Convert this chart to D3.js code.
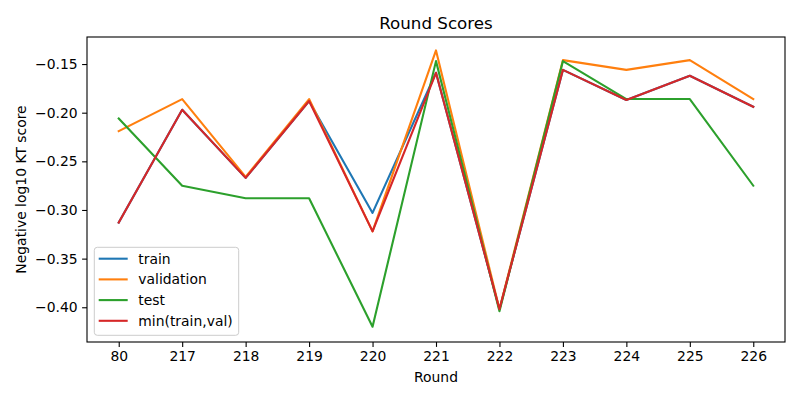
<!DOCTYPE html>
<html lang="en">
<head>
<meta charset="utf-8" />
<title>Round Scores</title>
<style>
  body { margin: 0; background: #fff; }
  svg text { font-family: "DejaVu Sans", sans-serif; fill: #000; }
</style>
</head>
<body>
<div id="chart"></div>
<script src="https://d3js.org/d3.v7.min.js"></script>
<script>
// data
var rounds = ["80", "217", "218", "219", "220", "221", "222", "223", "224", "225", "226"];
var train = [-0.313, -0.197, -0.267, -0.188, -0.303, -0.159, -0.402, -0.156, -0.187, -0.162, -0.194];
var validation = [-0.219, -0.186, -0.266, -0.186, -0.322, -0.136, -0.402, -0.146, -0.156, -0.146, -0.186];
var test = [-0.206, -0.275, -0.288, -0.288, -0.420, -0.147, -0.404, -0.147, -0.186, -0.186, -0.275];
var minTrainVal = [-0.313, -0.197, -0.267, -0.188, -0.322, -0.159, -0.402, -0.156, -0.187, -0.162, -0.194];
var yTicks = [-0.40, -0.35, -0.30, -0.25, -0.20, -0.15];

var series = [
  { name: "train", values: train, color: "#1f77b4" },
  { name: "validation", values: validation, color: "#ff7f0e" },
  { name: "test", values: test, color: "#2ca02c" },
  { name: "min(train,val)", values: minTrainVal, color: "#d62728" }
];

var W = 800, H = 400;
var margin = { top: 37, right: 15, bottom: 58, left: 87 };
var width = W - margin.left - margin.right,
    height = H - margin.top - margin.bottom;

var svg = d3.select("#chart").append("svg")
  .attr("width", W)
  .attr("height", H);

var g = svg.append("g")
  .attr("transform", "translate(" + margin.left + "," + margin.top + ")");

var x = d3.scalePoint().domain(rounds).range([0, width]).padding(0.5);
var y = d3.scaleLinear().domain([-0.4357, -0.1222]).range([height, 0]);

// x axis
var xAxis = g.append("g")
  .attr("transform", "translate(0," + height + ")")
  .call(d3.axisBottom(x).tickSize(4.9).tickPadding(4.5));
xAxis.select(".domain").remove();
xAxis.selectAll("line").attr("stroke", "#000").attr("stroke-width", 1.1);
xAxis.selectAll("text").style("font-size", "13.9px").style("font-family", "DejaVu Sans");

// y axis
var yAxis = g.append("g")
  .call(d3.axisLeft(y).tickValues(yTicks).tickFormat(d3.format(".2f")).tickSize(4.9).tickPadding(4.5));
yAxis.select(".domain").remove();
yAxis.selectAll("line").attr("stroke", "#000").attr("stroke-width", 1.1);
yAxis.selectAll("text").style("font-size", "13.9px").style("font-family", "DejaVu Sans");

// lines
var line = d3.line()
  .x(function(d, i) { return x(rounds[i]); })
  .y(function(d) { return y(d); });

g.selectAll(".series")
  .data(series)
  .enter()
  .append("path")
  .attr("class", "series")
  .attr("d", function(d) { return line(d.values); })
  .attr("fill", "none")
  .attr("stroke", function(d) { return d.color; })
  .attr("stroke-width", 2.1)
  .attr("stroke-linejoin", "round")
  .attr("stroke-linecap", "square");

// frame
g.append("rect")
  .attr("width", width)
  .attr("height", height)
  .attr("fill", "none")
  .attr("stroke", "#000")
  .attr("stroke-width", 1.1);

// legend
var legend = g.append("g").attr("transform", "translate(7.3,210.3)");
legend.append("rect")
  .attr("width", 144.4)
  .attr("height", 88)
  .attr("rx", 3)
  .attr("fill", "#fff")
  .attr("fill-opacity", 0.8)
  .attr("stroke", "#ccc")
  .attr("stroke-width", 1);

var item = legend.selectAll(".item")
  .data(series)
  .enter()
  .append("g")
  .attr("class", "item")
  .attr("transform", function(d, i) { return "translate(0," + (11.4 + i * 20.7) + ")"; });
item.append("line")
  .attr("x1", 4.4).attr("x2", 33.4)
  .attr("stroke", function(d) { return d.color; })
  .attr("stroke-width", 2.1);
item.append("text")
  .attr("x", 44)
  .attr("dy", "0.35em")
  .style("font-size", "13.9px")
  .text(function(d) { return d.name; });

// title and labels
svg.append("text")
  .attr("x", margin.left + width / 2)
  .attr("y", 29)
  .attr("text-anchor", "middle")
  .style("font-size", "16.7px")
  .text("Round Scores");

svg.append("text")
  .attr("x", margin.left + width / 2)
  .attr("y", 382)
  .attr("text-anchor", "middle")
  .style("font-size", "13.9px")
  .text("Round");

svg.append("text")
  .attr("transform", "translate(26," + (margin.top + height / 2) + ") rotate(-90)")
  .attr("text-anchor", "middle")
  .style("font-size", "13.9px")
  .text("Negative log10 KT score");
</script>
</body>
</html>
